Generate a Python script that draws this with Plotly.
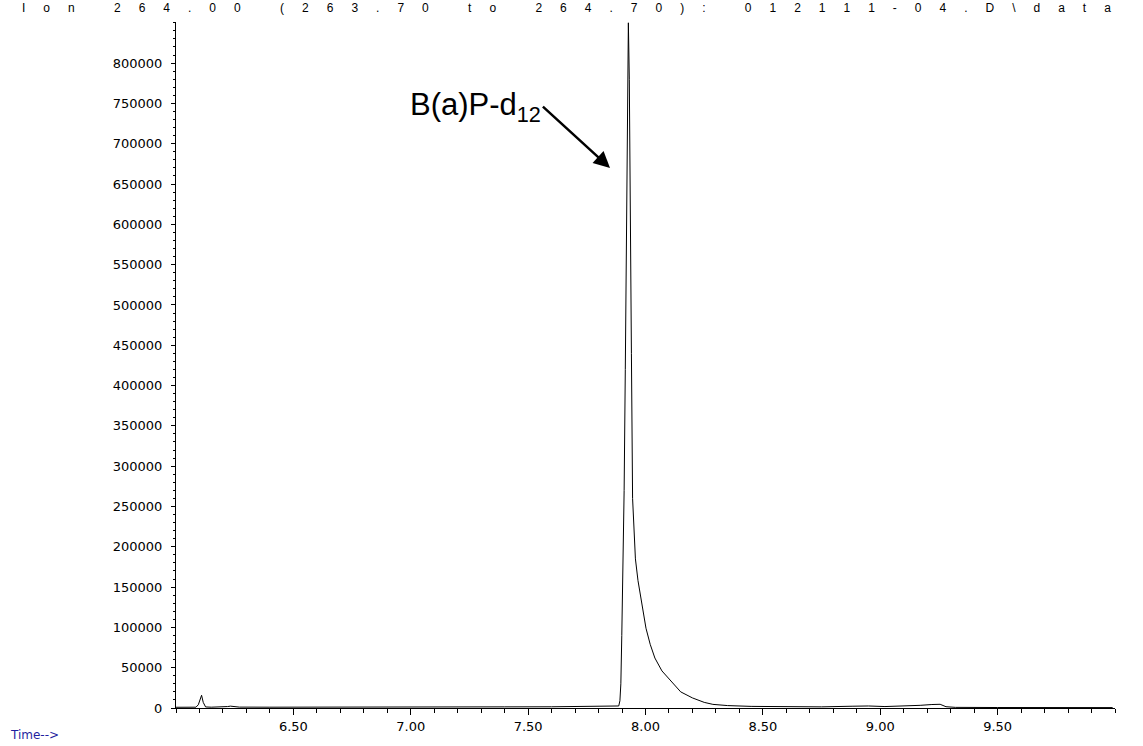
import plotly.graph_objects as go

# Extracted ion chromatogram, m/z 264.00 (263.70 to 264.70)
time_min = [
    6.000, 6.050, 6.085, 6.095, 6.102, 6.109, 6.116, 6.126, 6.150, 6.200,
    6.220, 6.232, 6.245, 6.270, 6.400, 6.600, 6.800, 7.000, 7.200, 7.400,
    7.600, 7.800, 7.870, 7.886, 7.891, 7.895, 7.899, 7.904, 7.909, 7.914,
    7.919, 7.923, 7.927, 7.931, 7.936, 7.940, 7.945, 7.951, 7.957, 7.968,
    7.980, 7.990, 8.002, 8.020, 8.040, 8.070, 8.104, 8.150, 8.200, 8.250,
    8.287, 8.350, 8.450, 8.600, 8.750, 8.880, 8.950, 9.020, 9.100, 9.170,
    9.220, 9.255, 9.280, 9.320, 9.500, 9.700, 9.990,
]
abundance = [
    900, 900, 1000, 4000, 11000, 15800, 7000, 1300, 1000, 1100,
    1800, 2300, 1800, 1100, 1000, 900, 1000, 1200, 1300, 1400,
    1500, 1600, 1900, 2500, 9000, 30000, 90000, 180000, 270000, 420000,
    630000, 770000, 850000, 780000, 630000, 440000, 260000, 215000, 185000, 158000,
    136000, 118000, 99000, 79000, 62000, 46000, 35000, 20000, 12500, 7000,
    4500, 3000, 2000, 1500, 1400, 2200, 2500, 1800, 2300, 3300,
    4300, 4600, 1600, 800, 600, 500, 500,
]

# Axis ticks
y_major = list(range(0, 800001, 50000))
y_labels = [str(v) for v in y_major]
x_major = [6.5, 7.0, 7.5, 8.0, 8.5, 9.0, 9.5]
x_labels = ["6.50", "7.00", "7.50", "8.00", "8.50", "9.00", "9.50"]

title_text = "Ion 264.00 (263.70 to 264.70): 012111-04.D\\data"
peak_label = "B(a)P-d<sub>12</sub>"
arrow_tip = (7.849, 670000)
arrow_tail = (7.563, 746000)

# wide letter spacing of the run header
SEP = "\u2003\u2002"
spaced_title = SEP.join(title_text)

PLOT_L, PLOT_R, PLOT_T, PLOT_B = 176, 1115, 22, 711
PW, PH = PLOT_R - PLOT_L, PLOT_B - PLOT_T


def px_x(px):
    return (px - PLOT_L) / PW


def px_y(py):
    return (PLOT_B - py) / PH


fig = go.Figure()
fig.add_trace(go.Scatter(
    x=time_min, y=abundance, mode="lines",
    line=dict(color="black", width=1),
    showlegend=False, hoverinfo="skip", cliponaxis=True,
))

tick_font = dict(family="DejaVu Sans, sans-serif", size=13, color="black")

fig.update_layout(
    width=1143, height=746,
    margin=dict(l=PLOT_L, r=1143 - PLOT_R, t=PLOT_T, b=746 - PLOT_B, pad=0),
    paper_bgcolor="white", plot_bgcolor="white",
    showlegend=False,
    xaxis=dict(
        range=[6.0, 10.0], showgrid=False, zeroline=False,
        showline=True, linecolor="black", linewidth=1,
        tickmode="array", tickvals=x_major, ticktext=x_labels,
        ticks="outside", ticklen=6, tickwidth=1, tickcolor="black",
        minor=dict(dtick=0.1, tick0=6.0, ticks="outside", ticklen=4,
                   tickwidth=1, tickcolor="black", showgrid=False),
        tickfont=tick_font, fixedrange=True,
    ),
    yaxis=dict(
        range=[0, 851000], showgrid=False, zeroline=False,
        showline=True, linecolor="black", linewidth=1,
        tickmode="array", tickvals=y_major, ticktext=y_labels,
        ticks="outside", ticklen=4, tickwidth=1, tickcolor="black",
        minor=dict(dtick=10000, tick0=0, ticks="outside", ticklen=2,
                   tickwidth=1, tickcolor="black", showgrid=False),
        tickfont=tick_font, ticklabelstandoff=6, fixedrange=True,
    ),
)

# Run header across the top
fig.add_annotation(
    text=spaced_title, xref="paper", yref="paper",
    x=px_x(20), y=px_y(8), xanchor="left", yanchor="middle",
    showarrow=False,
    font=dict(family="Liberation Sans, Arial, sans-serif", size=12, color="black"),
)

# Time axis caption
fig.add_annotation(
    text="Time-->", xref="paper", yref="paper",
    x=px_x(8), y=px_y(738), xanchor="left", yanchor="middle",
    showarrow=False,
    font=dict(family="DejaVu Sans, sans-serif", size=12, color="#1f1fa0"),
)

# Peak label with pointer arrow
fig.add_annotation(
    text=peak_label, x=arrow_tip[0], y=arrow_tip[1], xref="x", yref="y",
    ax=arrow_tail[0], ay=arrow_tail[1], axref="x", ayref="y",
    xanchor="right", yanchor="middle",
    showarrow=True, arrowhead=2, arrowsize=1.3, arrowwidth=2.5, arrowcolor="black",
    font=dict(family="Liberation Sans, Arial, sans-serif", size=31, color="black"),
)

fig.write_html("out.html")
